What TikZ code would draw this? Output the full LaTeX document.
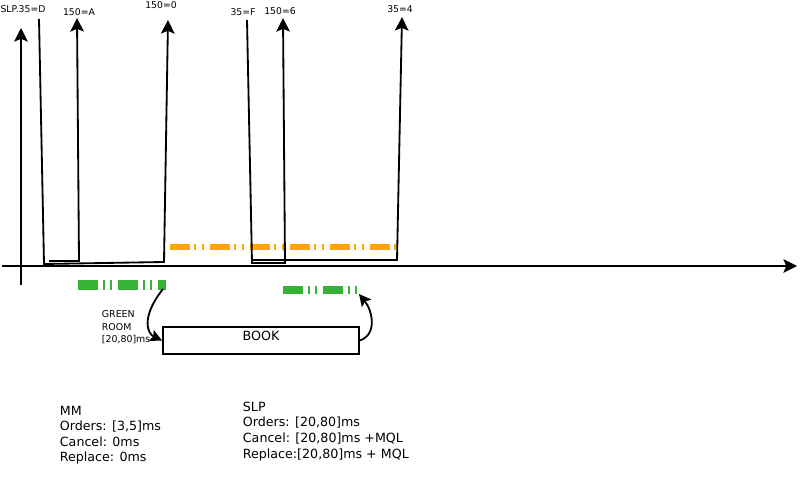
\documentclass[tikz,border=0pt]{standalone}
\usepackage{fontspec}
\setmainfont{DejaVu Sans}
\usepackage{xcolor}
\usetikzlibrary{arrows.meta,positioning}
\definecolor{slporange}{HTML}{FFA500}
\definecolor{roomgreen}{HTML}{36B236}

\begin{document}
\begin{tikzpicture}[x=0.25mm, y=-0.25mm, line width=1.3pt,
    tip/.style={-{Stealth[length=3.4mm,width=3.4mm,inset=0.7mm]}},
    curvetip/.style={-{Stealth[length=3mm,width=3mm,inset=0.6mm]}},
    sig/.style={font=\fontsize{6.6}{8}\selectfont, inner sep=0pt, anchor=base},
    small/.style={font=\fontsize{6.7}{8.9}\selectfont, inner sep=0pt, anchor=north west, align=left},
    txt/.style={font=\fontsize{9}{11.1}\selectfont, inner sep=0pt, anchor=north west, align=left},
    orangebar/.style={slporange, line width=1.5mm, dash pattern=on 5mm off 1mm on 0.5mm off 1.5mm on 0.5mm off 1.5mm},
    greenbar/.style={roomgreen, line width=#1, dash pattern=on 5mm off 1.25mm on 0.5mm off 1.25mm on 0.5mm off 1.5mm}]
    \useasboundingbox (0,0) rectangle (803,499);

    % Axes
    \coordinate (xs) at (2,266);
    \coordinate (xe) at (797,266);
    \coordinate (ys) at (21,285);
    \coordinate (ye) at (21,28);
    \draw[tip] (xs) -- (xe);
    \draw[tip] (ys) -- (ye);

    % Delays
    \coordinate (ob) at (170,247);
    \coordinate (oe) at (397,247);
    \draw[orangebar] (ob) -- (oe);
    \coordinate (g1b) at (78,285);
    \coordinate (g1e) at (166,285);
    \draw[greenbar=2.6mm] (g1b) -- (g1e);
    \coordinate (g2b) at (283,290);
    \coordinate (g2e) at (357,290);
    \draw[greenbar=2.1mm] (g2b) -- (g2e);

    % Orders
    \node[sig] (sD) at (23,13) {SLP.35=D};
    \node[sig] (sA) at (79,16) {150=A};
    \node[sig] (s0) at (161,9) {150=0};
    \node[sig] (sF) at (243,16) {35=F};
    \node[sig] (s6) at (280,15) {150=6};
    \node[sig] (s4) at (400,13) {35=4};
    \draw[tip] (39,19) -- (44,264) -- (164,262) -- (168,20);
    \draw[tip] (49,261) -- (79,261) -- (77,18);
    \draw[tip] (247,20) -- (252,263) -- (285,263) -- (283,18);
    \draw[tip] (253,260) -- (397,260) -- (402,17);

    % Matching engine
    \node[draw, inner sep=0pt, text width=49mm, align=center, text height=3.5mm, text depth=3.25mm,
          font=\fontsize{9}{11}\selectfont] (book) at (261,340.5) {BOOK};
    \coordinate (g1c) at (163,289);
    \coordinate (g2c) at (359,294);
    \draw[curvetip] (g1c) .. controls (140,318) and (148,334) .. (book.west);
    \draw[curvetip] (book.east) .. controls (378,334) and (372,310) .. (g2c);
    \node[small] (room) at (101,310) {GREEN\\ROOM\\{[20,80]ms}};

    % Latencies
    \node[txt] (mm) at (59,405) {MM\\Orders: [3,5]ms\\Cancel: 0ms\\Replace: 0ms};
    \node[txt] (slp) at (242,401) {SLP\\Orders: [20,80]ms\\Cancel: [20,80]ms +MQL\\Replace:[20,80]ms + MQL};
\end{tikzpicture}
\end{document}
